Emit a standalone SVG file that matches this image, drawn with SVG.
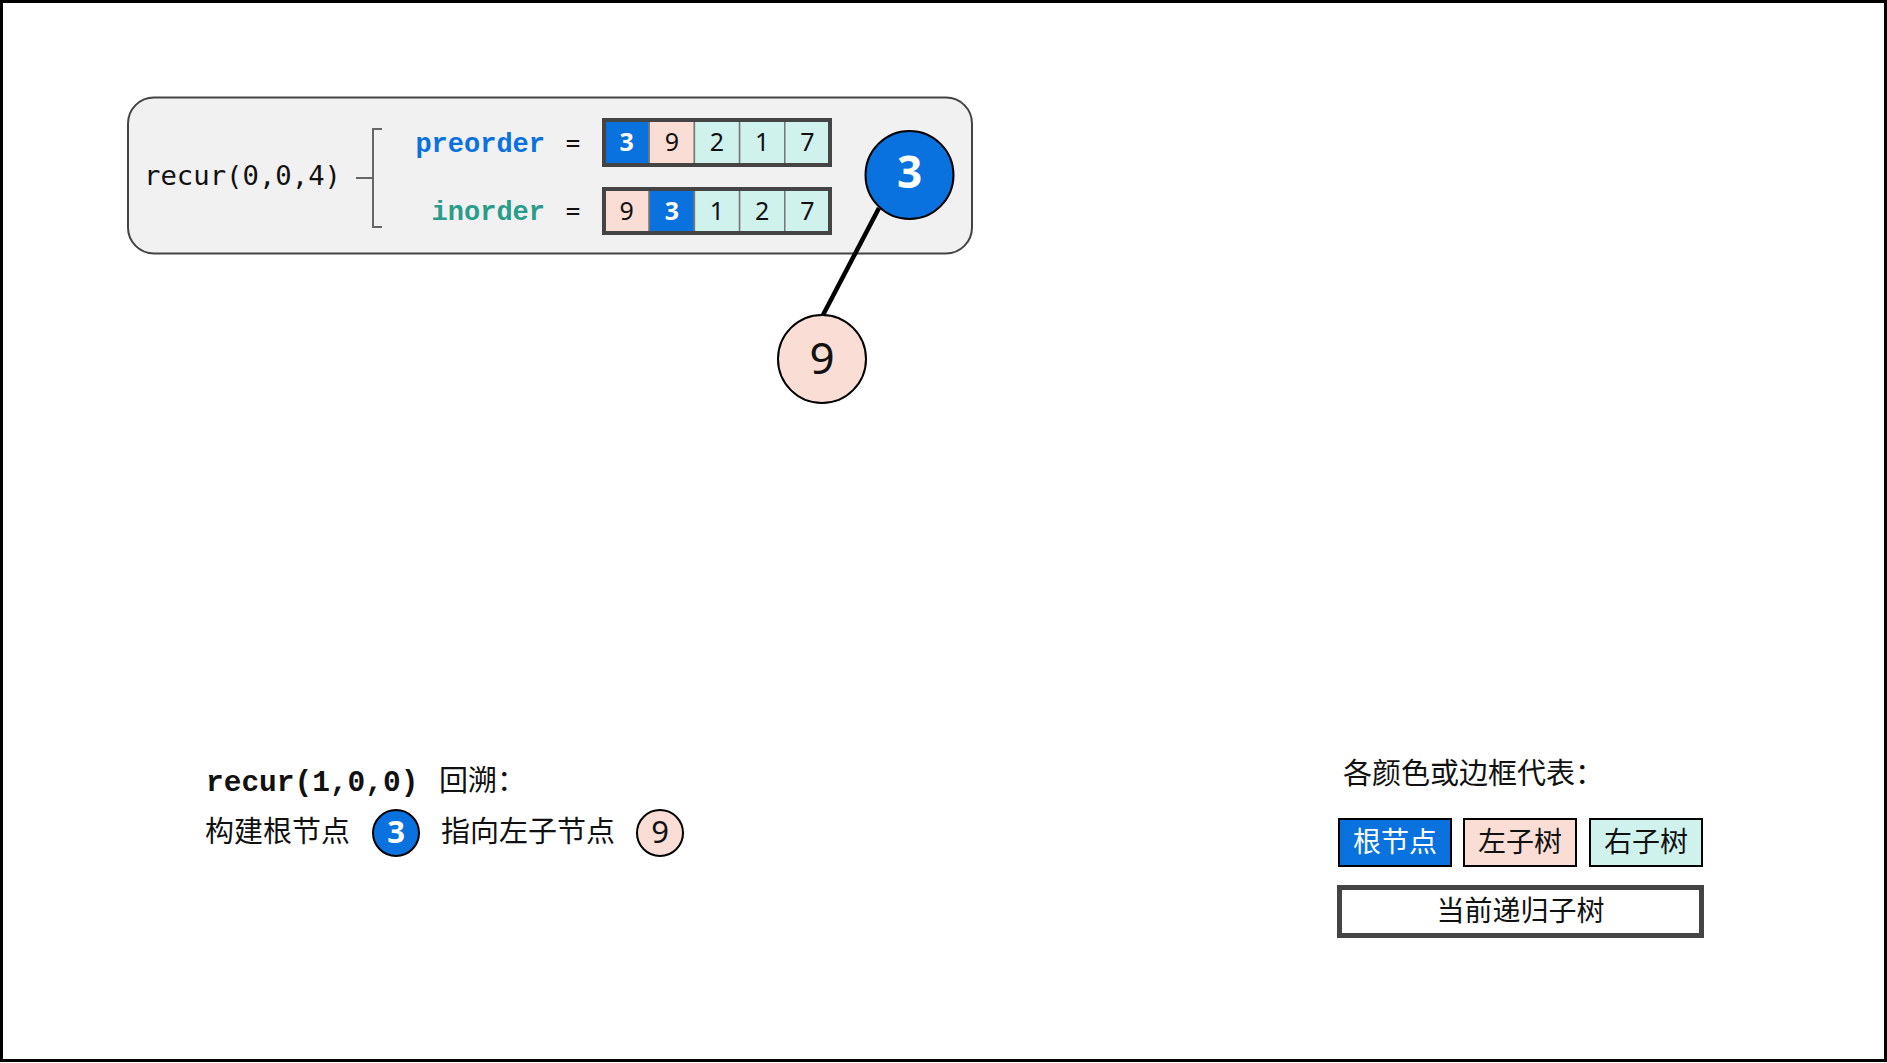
<svg xmlns="http://www.w3.org/2000/svg" width="1887" height="1063" viewBox="0 0 1887 1063">
<style>
.mono{font-family:"DejaVu Sans Mono","Liberation Mono",monospace;fill:#111}
.bmono{font-family:"Liberation Mono","DejaVu Sans Mono",monospace;font-weight:bold}
.sans{font-family:"Noto Sans","Open Sans",sans-serif}
.cjk{font-family:"Noto Sans","Noto Sans CJK SC",sans-serif;fill:#111}
.cell{stroke:#777;stroke-width:1.5}
.blue{fill:#0A72DE}
.pink{fill:#FADED6}
.mint{fill:#CFF2EC}
.arr{fill:none;stroke:#444;stroke-width:4}
.dig{font-family:"Noto Sans","Open Sans",sans-serif;font-size:25px;text-anchor:middle;fill:#111}
.dw{fill:#fff;font-weight:bold}
.node{stroke:#000;stroke-width:2}
.leg{stroke:#000;stroke-width:2}
</style>
<rect x="0" y="0" width="1887" height="1063" fill="#fff"/>
<rect x="1.5" y="1.5" width="1884" height="1059" fill="none" stroke="#000" stroke-width="3"/>

<g id="panel">
  <rect x="128" y="97.5" width="844" height="156" rx="26" fill="#F1F1F1" stroke="#444" stroke-width="2"/>
  <text class="mono" x="144" y="185" font-size="27" textLength="197" lengthAdjust="spacingAndGlyphs">recur(0,0,4)</text>
  <path d="M356 178H373M382 129H373V227H382" fill="none" stroke="#666" stroke-width="2"/>
  <text class="bmono" x="545" y="152" font-size="27" text-anchor="end" fill="#0A72DE">preorder</text>
  <text class="bmono" x="545" y="220" font-size="27" text-anchor="end" fill="#2A9C8A">inorder</text>
  <text class="mono" x="573" y="151" font-size="24" text-anchor="middle">=</text>
  <text class="mono" x="573" y="219" font-size="24" text-anchor="middle">=</text>
</g>

<g id="preorder-array">
  <rect class="cell blue" x="604" y="120" width="45.2" height="45"/>
  <rect class="cell pink" x="649.2" y="120" width="45.2" height="45"/>
  <rect class="cell mint" x="694.4" y="120" width="45.2" height="45"/>
  <rect class="cell mint" x="739.6" y="120" width="45.2" height="45"/>
  <rect class="cell mint" x="784.8" y="120" width="45.2" height="45"/>
  <rect class="arr" x="604" y="120" width="226" height="45"/>
  <text class="dig dw" x="626.6" y="151">3</text>
  <text class="dig" x="671.8" y="151">9</text>
  <text class="dig" x="717" y="151">2</text>
  <text class="dig" x="762.2" y="151">1</text>
  <text class="dig" x="807.4" y="151">7</text>
</g>

<g id="inorder-array">
  <rect class="cell pink" x="604" y="189" width="45.2" height="44"/>
  <rect class="cell blue" x="649.2" y="189" width="45.2" height="44"/>
  <rect class="cell mint" x="694.4" y="189" width="45.2" height="44"/>
  <rect class="cell mint" x="739.6" y="189" width="45.2" height="44"/>
  <rect class="cell mint" x="784.8" y="189" width="45.2" height="44"/>
  <rect class="arr" x="604" y="189" width="226" height="44"/>
  <text class="dig" x="626.6" y="220">9</text>
  <text class="dig dw" x="671.8" y="220">3</text>
  <text class="dig" x="717" y="220">1</text>
  <text class="dig" x="762.2" y="220">2</text>
  <text class="dig" x="807.4" y="220">7</text>
</g>

<g id="connectors">
  <line x1="879" y1="208" x2="823" y2="315" stroke="#000" stroke-width="4.5"/>
</g>

<g id="node-3">
  <circle class="node blue" cx="909.5" cy="175" r="44"/>
  <text class="sans" x="909.5" y="188" font-size="44" font-weight="bold" text-anchor="middle" fill="#fff">3</text>
</g>

<g id="node-9">
  <circle class="node pink" cx="822" cy="359" r="44"/>
  <text class="sans" x="822" y="374" font-size="44" text-anchor="middle" fill="#111">9</text>
</g>

<g id="caption">
  <text x="206" y="791" font-size="29.5"><tspan class="bmono" fill="#111">recur(1,0,0)</tspan><tspan class="cjk" x="439" font-size="29">回溯：</tspan></text>
  <text class="cjk" x="205" y="842" font-size="29">构建根节点</text>
  <circle class="node blue" cx="396" cy="833" r="23"/>
  <text class="sans" x="396" y="843" font-size="31" font-weight="bold" text-anchor="middle" fill="#fff">3</text>
  <text class="cjk" x="441" y="842" font-size="29">指向左子节点</text>
  <circle class="node pink" cx="660" cy="833" r="23"/>
  <text class="sans" x="660" y="843" font-size="31" text-anchor="middle" fill="#111">9</text>
</g>

<g id="legend">
  <text class="cjk" x="1343" y="784" font-size="29">各颜色或边框代表：</text>
  <rect class="leg blue" x="1339" y="819" width="112" height="47"/>
  <text class="cjk" x="1395" y="852" font-size="28" text-anchor="middle" style="fill:#fff">根节点</text>
  <rect class="leg pink" x="1464" y="819" width="112" height="47"/>
  <text class="cjk" x="1520" y="852" font-size="28" text-anchor="middle">左子树</text>
  <rect class="leg mint" x="1590" y="819" width="112" height="47"/>
  <text class="cjk" x="1646" y="852" font-size="28" text-anchor="middle">右子树</text>
  <rect x="1339.5" y="887.5" width="362" height="48" fill="#fff" stroke="#444" stroke-width="5"/>
  <text class="cjk" x="1520.5" y="921" font-size="28" text-anchor="middle">当前递归子树</text>
</g>
</svg>
